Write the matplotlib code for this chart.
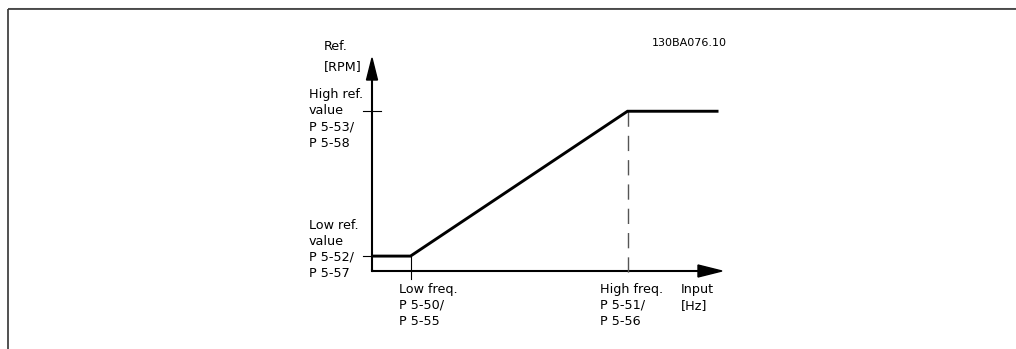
import matplotlib
matplotlib.use("Agg")
import matplotlib.pyplot as plt
from matplotlib.patches import Polygon

plt.rcParams['lines.scale_dashes'] = False
plt.rcParams['font.family'] = ['DejaVu Sans']

# ---- data (abstract chart units: axes run 0..10 on both x and y) ----
x_axis_max = 10.0
y_axis_max = 10.0
low_freq = 1.1
high_freq = 7.3
line_end = 9.9
low_ref = 0.7
high_ref = 7.5
curve_x = [0.0, low_freq, high_freq, line_end]
curve_y = [low_ref, low_ref, high_ref, high_ref]

y_title = ["Ref.", "[RPM]"]
high_ref_label = ["High ref.", "value", "P 5-53/", "P 5-58"]
low_ref_label = ["Low ref.", "value", "P 5-52/", "P 5-57"]
low_freq_label = ["Low freq.", "P 5-50/", "P 5-55"]
high_freq_label = ["High freq.", "P 5-51/", "P 5-56"]
x_title = ["Input", "[Hz]"]
doc_id = "130BA076.10"

W, H = 1016, 349
fig = plt.figure(figsize=(W / 100, H / 100), dpi=100)

# background axes in pixel coordinates (for frame and labels)
bg = fig.add_axes([0, 0, 1, 1])
bg.set_xlim(0, W)
bg.set_ylim(H, 0)
bg.axis('off')

# frame (top and left edges visible)
bg.plot([7.5, W], [8.2, 8.2], color='#bdbdbd', lw=0.8, solid_capstyle='butt')
bg.plot([7.5, W], [9.4, 9.4], color='#333333', lw=1.2, solid_capstyle='butt')
bg.plot([7.5, 7.5], [9.4, H], color='#333333', lw=1.2, solid_capstyle='butt')

# chart axes
ox, oy = 372, 271
axw, axh = 350, 213
ax = fig.add_axes([ox / W, (H - oy) / H, axw / W, axh / H])
ax.set_xlim(0, x_axis_max)
ax.set_ylim(0, y_axis_max)
ax.axis('off')

px = x_axis_max / axw  # data units per pixel (x)
py = y_axis_max / axh  # data units per pixel (y)

# axis lines
ax.plot([0, 0], [0, y_axis_max - 20 * py], color='black', lw=1.5,
        solid_capstyle='butt', clip_on=False)
ax.plot([0, x_axis_max - 22 * px], [0, 0], color='black', lw=1.5,
        solid_capstyle='butt', clip_on=False)
ax.plot([0, 0], [0, 0.75 * py], color='black', lw=1.5, clip_on=False)
# arrowheads
ax.add_patch(Polygon([[0, y_axis_max], [-5.5 * px, y_axis_max - 22 * py],
                      [5.5 * px, y_axis_max - 22 * py]], closed=True,
                     color='black', clip_on=False))
ax.add_patch(Polygon([[x_axis_max, 0], [x_axis_max - 24 * px, 6 * py],
                      [x_axis_max - 24 * px, -6 * py]], closed=True,
                     color='black', clip_on=False))

# ticks / guide lines
ax.plot([-9 * px, 9 * px], [high_ref, high_ref], color='black', lw=0.8,
        clip_on=False)
ax.plot([-9 * px, 0], [low_ref, low_ref], color='black', lw=0.8, clip_on=False)
ax.plot([low_freq, low_freq], [low_ref, -8 * py], color='black', lw=0.8,
        clip_on=False)
ax.plot([high_freq, high_freq], [high_ref, -9 * py], color='#555555', lw=1.0,
        dashes=(11, 6.5), clip_on=False)

# characteristic curve
ax.plot(curve_x, curve_y, color='black', lw=2.1, solid_joinstyle='miter',
        solid_capstyle='butt', clip_on=False)

# labels
fs = 9.2


def block(lines, x, y0, step, size=fs):
    for i, s in enumerate(lines):
        bg.text(x, y0 + i * step + 4.6, s, fontsize=size, ha='left',
                va='baseline', color='black')


block(y_title, 324, 45, 20)
block(high_ref_label, 309, 93, 16.5)
block(low_ref_label, 309, 224.2, 16.1)
block(low_freq_label, 399, 288, 16)
block(high_freq_label, 600, 288, 16.2)
block(x_title, 681, 288, 16)
bg.text(652, 42 + 4.2, doc_id, fontsize=8.0, ha='left', va='baseline',
        color='black')

fig.savefig('out.png', dpi=100)
